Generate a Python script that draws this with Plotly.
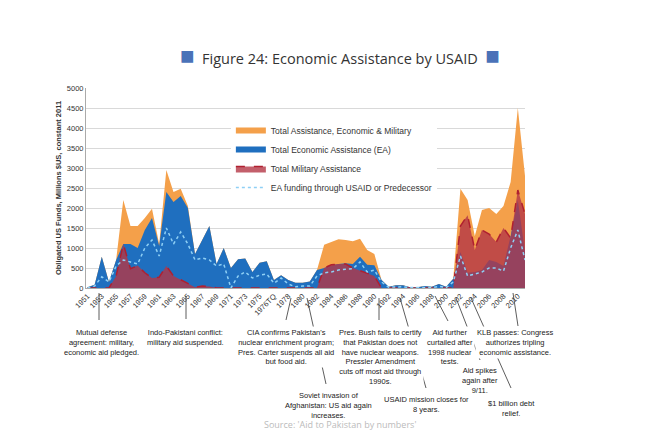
import plotly.graph_objects as go

years = [str(y) for y in range(1951, 1977)] + ["1976TQ"] + [str(y) for y in range(1977, 2012)]
total = [20, 80, 780, 150, 700, 2200, 1550, 1550, 1750, 1980, 1100, 2950, 2400, 2480, 2050, 850,
         1200, 1550, 600, 1000, 500, 720, 740, 400, 630, 670, 200, 320, 200, 130, 130, 160, 450,
         1080, 1150, 1220, 1200, 1170, 1230, 950, 850, 200, 30, 70, 70, 20, 20, 50, 30, 100, 30,
         230, 2480, 2200, 1300, 1950, 2000, 1850, 2050, 2650, 4500, 2800]
economic = [20, 80, 780, 150, 700, 1100, 1100, 1000, 1450, 1750, 1050, 2400, 2150, 2300, 2000, 850,
            1200, 1550, 600, 1000, 500, 720, 740, 400, 630, 670, 200, 320, 200, 130, 130, 160, 450,
            500, 560, 600, 620, 600, 780, 580, 570, 200, 30, 70, 70, 20, 20, 50, 30, 100, 30,
            230, 900, 380, 400, 450, 700, 650, 550, 1300, 2200, 900]
military = [0, 0, 0, 0, 300, 1100, 480, 560, 380, 250, 270, 550, 300, 200, 100, 20,
            50, 40, 0, 0, 0, 0, 0, 0, 0, 0, 0, 0, 0, 0, 0, 0, 0,
            500, 580, 600, 600, 500, 430, 380, 300, 0, 0, 0, 0, 0, 0, 0, 0, 0, 0,
            0, 1550, 1820, 950, 1450, 1350, 1150, 1500, 1250, 2450, 1850]
usaid = [0, 50, 280, 150, 550, 700, 650, 600, 1000, 1200, 800, 1500, 1100, 1400, 1100, 700,
         750, 700, 550, 600, 0, 300, 400, 250, 320, 350, 120, 250, 100, 30, 50, 50, 300,
         380, 400, 450, 470, 480, 650, 400, 450, 150, 20, 30, 30, 10, 10, 20, 10, 40, 10,
         150, 800, 300, 350, 400, 500, 500, 420, 1000, 1450, 700]
tick_labels = years[0:26:2] + ["1976TQ"] + years[28::2]

fig = go.Figure()
fig.add_trace(go.Scatter(x=years, y=total, fill="tozeroy", mode="none", fillcolor="#f4a04a",
                         name="Total Assistance, Economic & Military"))
fig.add_trace(go.Scatter(x=years, y=economic, fill="tozeroy", mode="none", fillcolor="#1f6fbf",
                         name="Total Economic Assistance (EA)"))
fig.add_trace(go.Scatter(x=years, y=military, fill="tozeroy", mode="lines", fillcolor="rgba(180,55,70,0.8)",
                         line=dict(color="#b02030", width=1.5, dash="dash"), name="Total Military Assistance"))
fig.add_trace(go.Scatter(x=years, y=usaid, mode="lines", line=dict(color="#8fd0f5", width=1.5, dash="dot"),
                         name="EA funding through USAID or Predecessor"))

def px(x): return (x - 78) / 439
def py(y): return (280 - y) / 200

lines = [(91, 285, 91, 312), (178, 288, 178, 311), (283, 290, 278, 312), (299, 290, 318, 376),
         (371, 290, 371, 312), (392, 290, 418, 380), (427, 288, 440, 313), (448, 290, 472, 352),
         (463, 290, 503, 380), (505, 285, 510, 318)]
for x0, y0, x1, y1 in lines:
    fig.add_shape(type="line", xref="paper", yref="paper", x0=px(x0), y0=py(y0), x1=px(x1), y1=py(y1),
                  line=dict(color="#333", width=0.8))

notes = [(93, 318, "Mutual defense<br>agreement: military,<br>economic aid pledged."),
         (177, 318, "Indo-Pakistani conflict:<br>military aid suspended."),
         (278, 318, "CIA confirms Pakistan's<br>nuclear enrichment program;<br>Pres. Carter suspends all aid<br>but food aid."),
         (320, 381, "Soviet invasion of<br>Afghanistan: US aid again<br>increases."),
         (372, 318, "Pres. Bush fails to certify<br>that Pakistan does not<br>have nuclear weapons.<br>Pressler Amendment<br>cuts off most aid through<br>1990s."),
         (418, 385, "USAID mission closes for<br>8 years."),
         (442, 318, "Aid further<br>curtailed after<br>1998 nuclear<br>tests."),
         (472, 356, "Aid spikes<br>again after<br>9/11."),
         (503, 389, "$1 billion debt<br>relief."),
         (507, 318, "KLB passes: Congress<br>authorizes tripling<br>economic assistance.")]
for x, y, t in notes:
    fig.add_annotation(xref="paper", yref="paper", x=px(x), y=py(y), text=t, showarrow=False,
                       xanchor="center", yanchor="top", align="center",
                       font=dict(size=7.5, color="#222", family="Liberation Sans"), bgcolor="white")

fig.add_annotation(xref="paper", yref="paper", x=px(332), y=py(28), showarrow=False,
                   text="<span style='color:#4a72b8;font-size:24px'>■</span>  Figure 24: Economic Assistance by USAID  <span style='color:#4a72b8;font-size:24px'>■</span>",
                   font=dict(size=14.5, color="#333", family="Open Sans"))
fig.add_annotation(xref="paper", yref="paper", x=px(332), y=py(425), showarrow=False,
                   text="Source: 'Aid to Pakistan by numbers'", font=dict(size=9, color="#bbb", family="Open Sans"))

fig.update_layout(
    width=664, height=440, margin=dict(l=78, r=147, t=80, b=160),
    plot_bgcolor="white", paper_bgcolor="white",
    font=dict(family="Liberation Sans", size=8, color="#333"),
    legend=dict(x=0.33, y=0.86, xanchor="left", yanchor="top", bgcolor="white",
                font=dict(size=8.5, color="#333"), tracegroupgap=0, itemwidth=30),
    xaxis=dict(type="category", tickvals=tick_labels, ticktext=tick_labels, tickangle=-45,
               showgrid=False, showline=True, linecolor="#aaa", tickfont=dict(size=7.5), range=[-0.2, 61]),
    yaxis=dict(range=[0, 5000], dtick=500, gridcolor="#d9d9d9", showline=True, linecolor="#aaa",
               tickfont=dict(size=7.5),
               title=dict(text="<b>Obligated US Funds, Millions $US, constant 2011</b>", font=dict(size=7.5), standoff=4)),
)
fig.write_html("out.html")
